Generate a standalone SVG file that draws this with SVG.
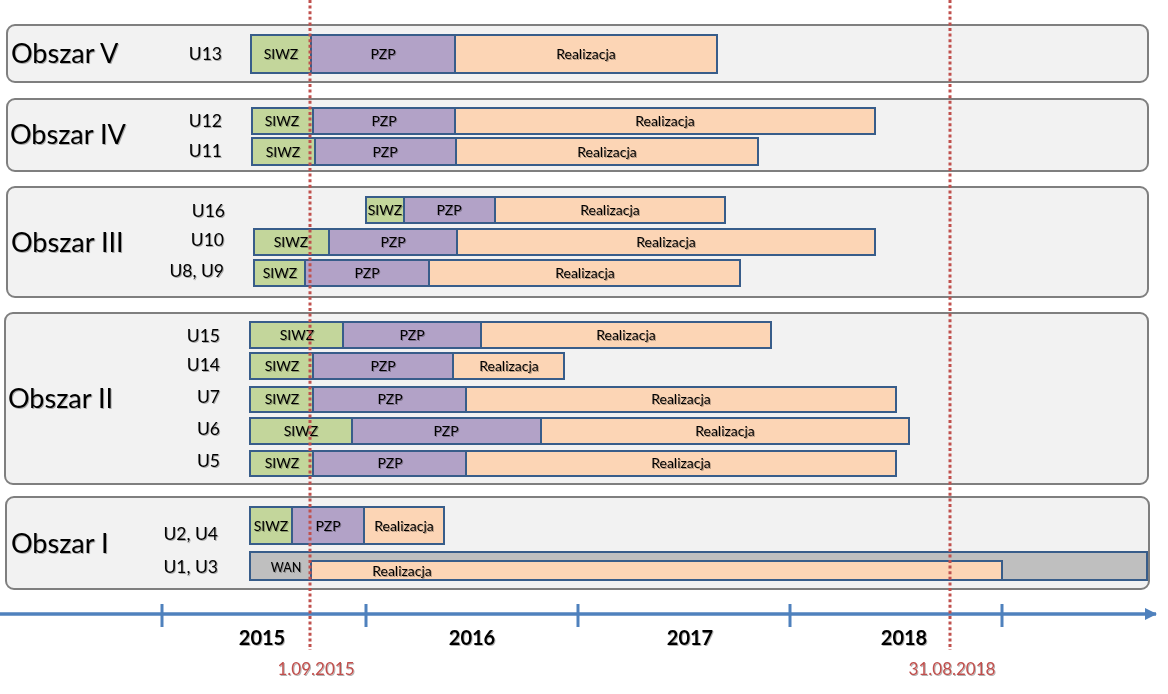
<svg xmlns="http://www.w3.org/2000/svg" width="1168" height="694" viewBox="0 0 1168 694">
<style>
.panel{fill:#F2F2F2;stroke:#7F7F7F;stroke-width:2}
.siwz{fill:#C3D69B;stroke:#385D8A;stroke-width:2}
.pzp{fill:#B2A2C7;stroke:#385D8A;stroke-width:2}
.real{fill:#FCD5B5;stroke:#385D8A;stroke-width:2}
.wan{fill:#BFBFBF;stroke:#385D8A;stroke-width:2}
.area{font-family:Lato,"Liberation Sans",sans-serif;font-size:27px;fill:#000;filter:url(#sh)}
.row{font-family:Lato,"Liberation Sans",sans-serif;font-size:17.5px;fill:#000;text-anchor:end;filter:url(#sh)}
.bt{font-family:Lato,"Liberation Sans",sans-serif;font-size:14px;fill:#000;text-anchor:middle;filter:url(#sh)}
.yr{font-family:Lato,"Liberation Sans",sans-serif;font-size:20px;font-weight:bold;fill:#000;text-anchor:middle;filter:url(#sh)}
.dt{font-family:Lato,"Liberation Sans",sans-serif;font-size:17px;fill:#C0504D;text-anchor:middle;filter:url(#sh)}
.axis{stroke:#4F81BD;stroke-width:3.5;fill:none}
.tick{stroke:#4F81BD;stroke-width:3}
.dl{stroke:#C0504D;stroke-width:3;stroke-dasharray:3 2.6;fill:none}
</style>
<defs>
<filter id="sh" x="-10%" y="-20%" width="130%" height="150%">
<feDropShadow dx="1" dy="1" stdDeviation="0.7" flood-color="#000" flood-opacity="0.3"/>
</filter>
<marker id="arr" markerWidth="12" markerHeight="12" refX="11" refY="6" orient="auto" markerUnits="userSpaceOnUse">
<path d="M0,0 L12,6 L0,12 Z" fill="#4F81BD"/>
</marker>
</defs>

<g id="panel-obszar-v">
<rect class="panel" x="7" y="25" width="1141" height="57" rx="8"/>
<text class="area" x="11" y="63">Obszar V</text>
</g>
<g id="panel-obszar-iv">
<rect class="panel" x="7" y="99" width="1141" height="72" rx="8"/>
<text class="area" x="10" y="144">Obszar IV</text>
</g>
<g id="panel-obszar-iii">
<rect class="panel" x="7" y="187" width="1141" height="110" rx="8"/>
<text class="area" x="11" y="252">Obszar III</text>
</g>
<g id="panel-obszar-ii">
<rect class="panel" x="5" y="313" width="1143" height="171" rx="8"/>
<text class="area" x="8" y="408">Obszar II</text>
</g>
<g id="panel-obszar-i">
<rect class="panel" x="6" y="497" width="1143" height="92" rx="8"/>
<text class="area" x="11" y="553">Obszar I</text>
</g>

<g id="row-u13">
<text class="row" x="222" y="60">U13</text>
<rect class="siwz" x="251" y="35" width="60" height="38"/>
<rect class="pzp" x="311" y="35" width="144" height="38"/>
<rect class="real" x="455" y="35" width="262" height="38"/>
<text class="bt" x="281" y="59">SIWZ</text>
<text class="bt" x="383" y="59">PZP</text>
<text class="bt" x="586" y="59">Realizacja</text>
</g>
<g id="row-u12">
<text class="row" x="222" y="127">U12</text>
<rect class="siwz" x="252" y="108" width="61" height="26"/>
<rect class="pzp" x="313" y="108" width="142" height="26"/>
<rect class="real" x="455" y="108" width="420" height="26"/>
<text class="bt" x="282" y="126">SIWZ</text>
<text class="bt" x="384" y="126">PZP</text>
<text class="bt" x="665" y="126">Realizacja</text>
</g>
<g id="row-u11">
<text class="row" x="222" y="157">U11</text>
<rect class="siwz" x="252" y="138" width="63" height="27"/>
<rect class="pzp" x="315" y="138" width="141" height="27"/>
<rect class="real" x="456" y="138" width="302" height="27"/>
<text class="bt" x="283" y="157">SIWZ</text>
<text class="bt" x="385" y="157">PZP</text>
<text class="bt" x="607" y="157">Realizacja</text>
</g>
<g id="row-u16">
<text class="row" x="225" y="217">U16</text>
<rect class="siwz" x="366" y="197" width="38" height="26"/>
<rect class="pzp" x="404" y="197" width="91" height="26"/>
<rect class="real" x="495" y="197" width="230" height="26"/>
<text class="bt" x="385" y="215">SIWZ</text>
<text class="bt" x="449" y="215">PZP</text>
<text class="bt" x="610" y="215">Realizacja</text>
</g>
<g id="row-u10">
<text class="row" x="224" y="246">U10</text>
<rect class="siwz" x="254" y="229" width="75" height="26"/>
<rect class="pzp" x="329" y="229" width="128" height="26"/>
<rect class="real" x="457" y="229" width="418" height="26"/>
<text class="bt" x="291" y="247">SIWZ</text>
<text class="bt" x="393" y="247">PZP</text>
<text class="bt" x="666" y="247">Realizacja</text>
</g>
<g id="row-u8-u9">
<text class="row" x="224" y="277">U8, U9</text>
<rect class="siwz" x="254" y="260" width="51" height="26"/>
<rect class="pzp" x="305" y="260" width="124" height="26"/>
<rect class="real" x="429" y="260" width="311" height="26"/>
<text class="bt" x="280" y="278">SIWZ</text>
<text class="bt" x="367" y="278">PZP</text>
<text class="bt" x="585" y="278">Realizacja</text>
</g>
<g id="row-u15">
<text class="row" x="220" y="342">U15</text>
<rect class="siwz" x="250" y="322" width="93" height="26"/>
<rect class="pzp" x="343" y="322" width="138" height="26"/>
<rect class="real" x="481" y="322" width="290" height="26"/>
<text class="bt" x="297" y="340">SIWZ</text>
<text class="bt" x="412" y="340">PZP</text>
<text class="bt" x="626" y="340">Realizacja</text>
</g>
<g id="row-u14">
<text class="row" x="220" y="371">U14</text>
<rect class="siwz" x="250" y="353" width="63" height="26"/>
<rect class="pzp" x="313" y="353" width="140" height="26"/>
<rect class="real" x="453" y="353" width="111" height="26"/>
<text class="bt" x="282" y="371">SIWZ</text>
<text class="bt" x="383" y="371">PZP</text>
<text class="bt" x="509" y="371">Realizacja</text>
</g>
<g id="row-u7">
<text class="row" x="220" y="403">U7</text>
<rect class="siwz" x="250" y="387" width="63" height="25"/>
<rect class="pzp" x="313" y="387" width="153" height="25"/>
<rect class="real" x="466" y="387" width="430" height="25"/>
<text class="bt" x="282" y="404">SIWZ</text>
<text class="bt" x="390" y="404">PZP</text>
<text class="bt" x="681" y="404">Realizacja</text>
</g>
<g id="row-u6">
<text class="row" x="220" y="435">U6</text>
<rect class="siwz" x="250" y="418" width="102" height="26"/>
<rect class="pzp" x="352" y="418" width="189" height="26"/>
<rect class="real" x="541" y="418" width="368" height="26"/>
<text class="bt" x="301" y="436">SIWZ</text>
<text class="bt" x="446" y="436">PZP</text>
<text class="bt" x="725" y="436">Realizacja</text>
</g>
<g id="row-u5">
<text class="row" x="220" y="467">U5</text>
<rect class="siwz" x="250" y="451" width="63" height="25"/>
<rect class="pzp" x="313" y="451" width="153" height="25"/>
<rect class="real" x="466" y="451" width="430" height="25"/>
<text class="bt" x="282" y="468">SIWZ</text>
<text class="bt" x="390" y="468">PZP</text>
<text class="bt" x="681" y="468">Realizacja</text>
</g>
<g id="row-u2-u4">
<text class="row" x="218" y="540">U2, U4</text>
<rect class="siwz" x="250" y="507" width="42" height="37"/>
<rect class="pzp" x="292" y="507" width="72" height="37"/>
<rect class="real" x="364" y="507" width="80" height="37"/>
<text class="bt" x="271" y="531">SIWZ</text>
<text class="bt" x="328" y="531">PZP</text>
<text class="bt" x="404" y="531">Realizacja</text>
</g>
<g id="row-u1-u3">
<text class="row" x="218" y="573">U1, U3</text>
<rect class="wan" x="250" y="552" width="897" height="28"/>
<rect class="real" x="311" y="561" width="691" height="19"/>
<text class="bt" x="286" y="572" style="font-size:12.5px">WAN</text>
<text class="bt" x="402" y="576">Realizacja</text>
</g>

<g id="connectors">
<line class="axis" x1="0" y1="614" x2="1156" y2="614" marker-end="url(#arr)"/>
<line class="tick" x1="162" y1="604" x2="162" y2="627"/>
<line class="tick" x1="366" y1="604" x2="366" y2="627"/>
<line class="tick" x1="578" y1="604" x2="578" y2="627"/>
<line class="tick" x1="790" y1="604" x2="790" y2="627"/>
<line class="tick" x1="1002" y1="604" x2="1002" y2="627"/>
<line class="dl" x1="310" y1="0" x2="310" y2="650"/>
<line class="dl" x1="950" y1="0" x2="950" y2="650"/>
</g>

<g id="labels">
<text class="yr" x="262" y="645">2015</text>
<text class="yr" x="472" y="645">2016</text>
<text class="yr" x="690" y="645">2017</text>
<text class="yr" x="904" y="645">2018</text>
<text class="dt" x="316" y="675">1.09.2015</text>
<text class="dt" x="952" y="675">31.08.2018</text>
</g>
</svg>
